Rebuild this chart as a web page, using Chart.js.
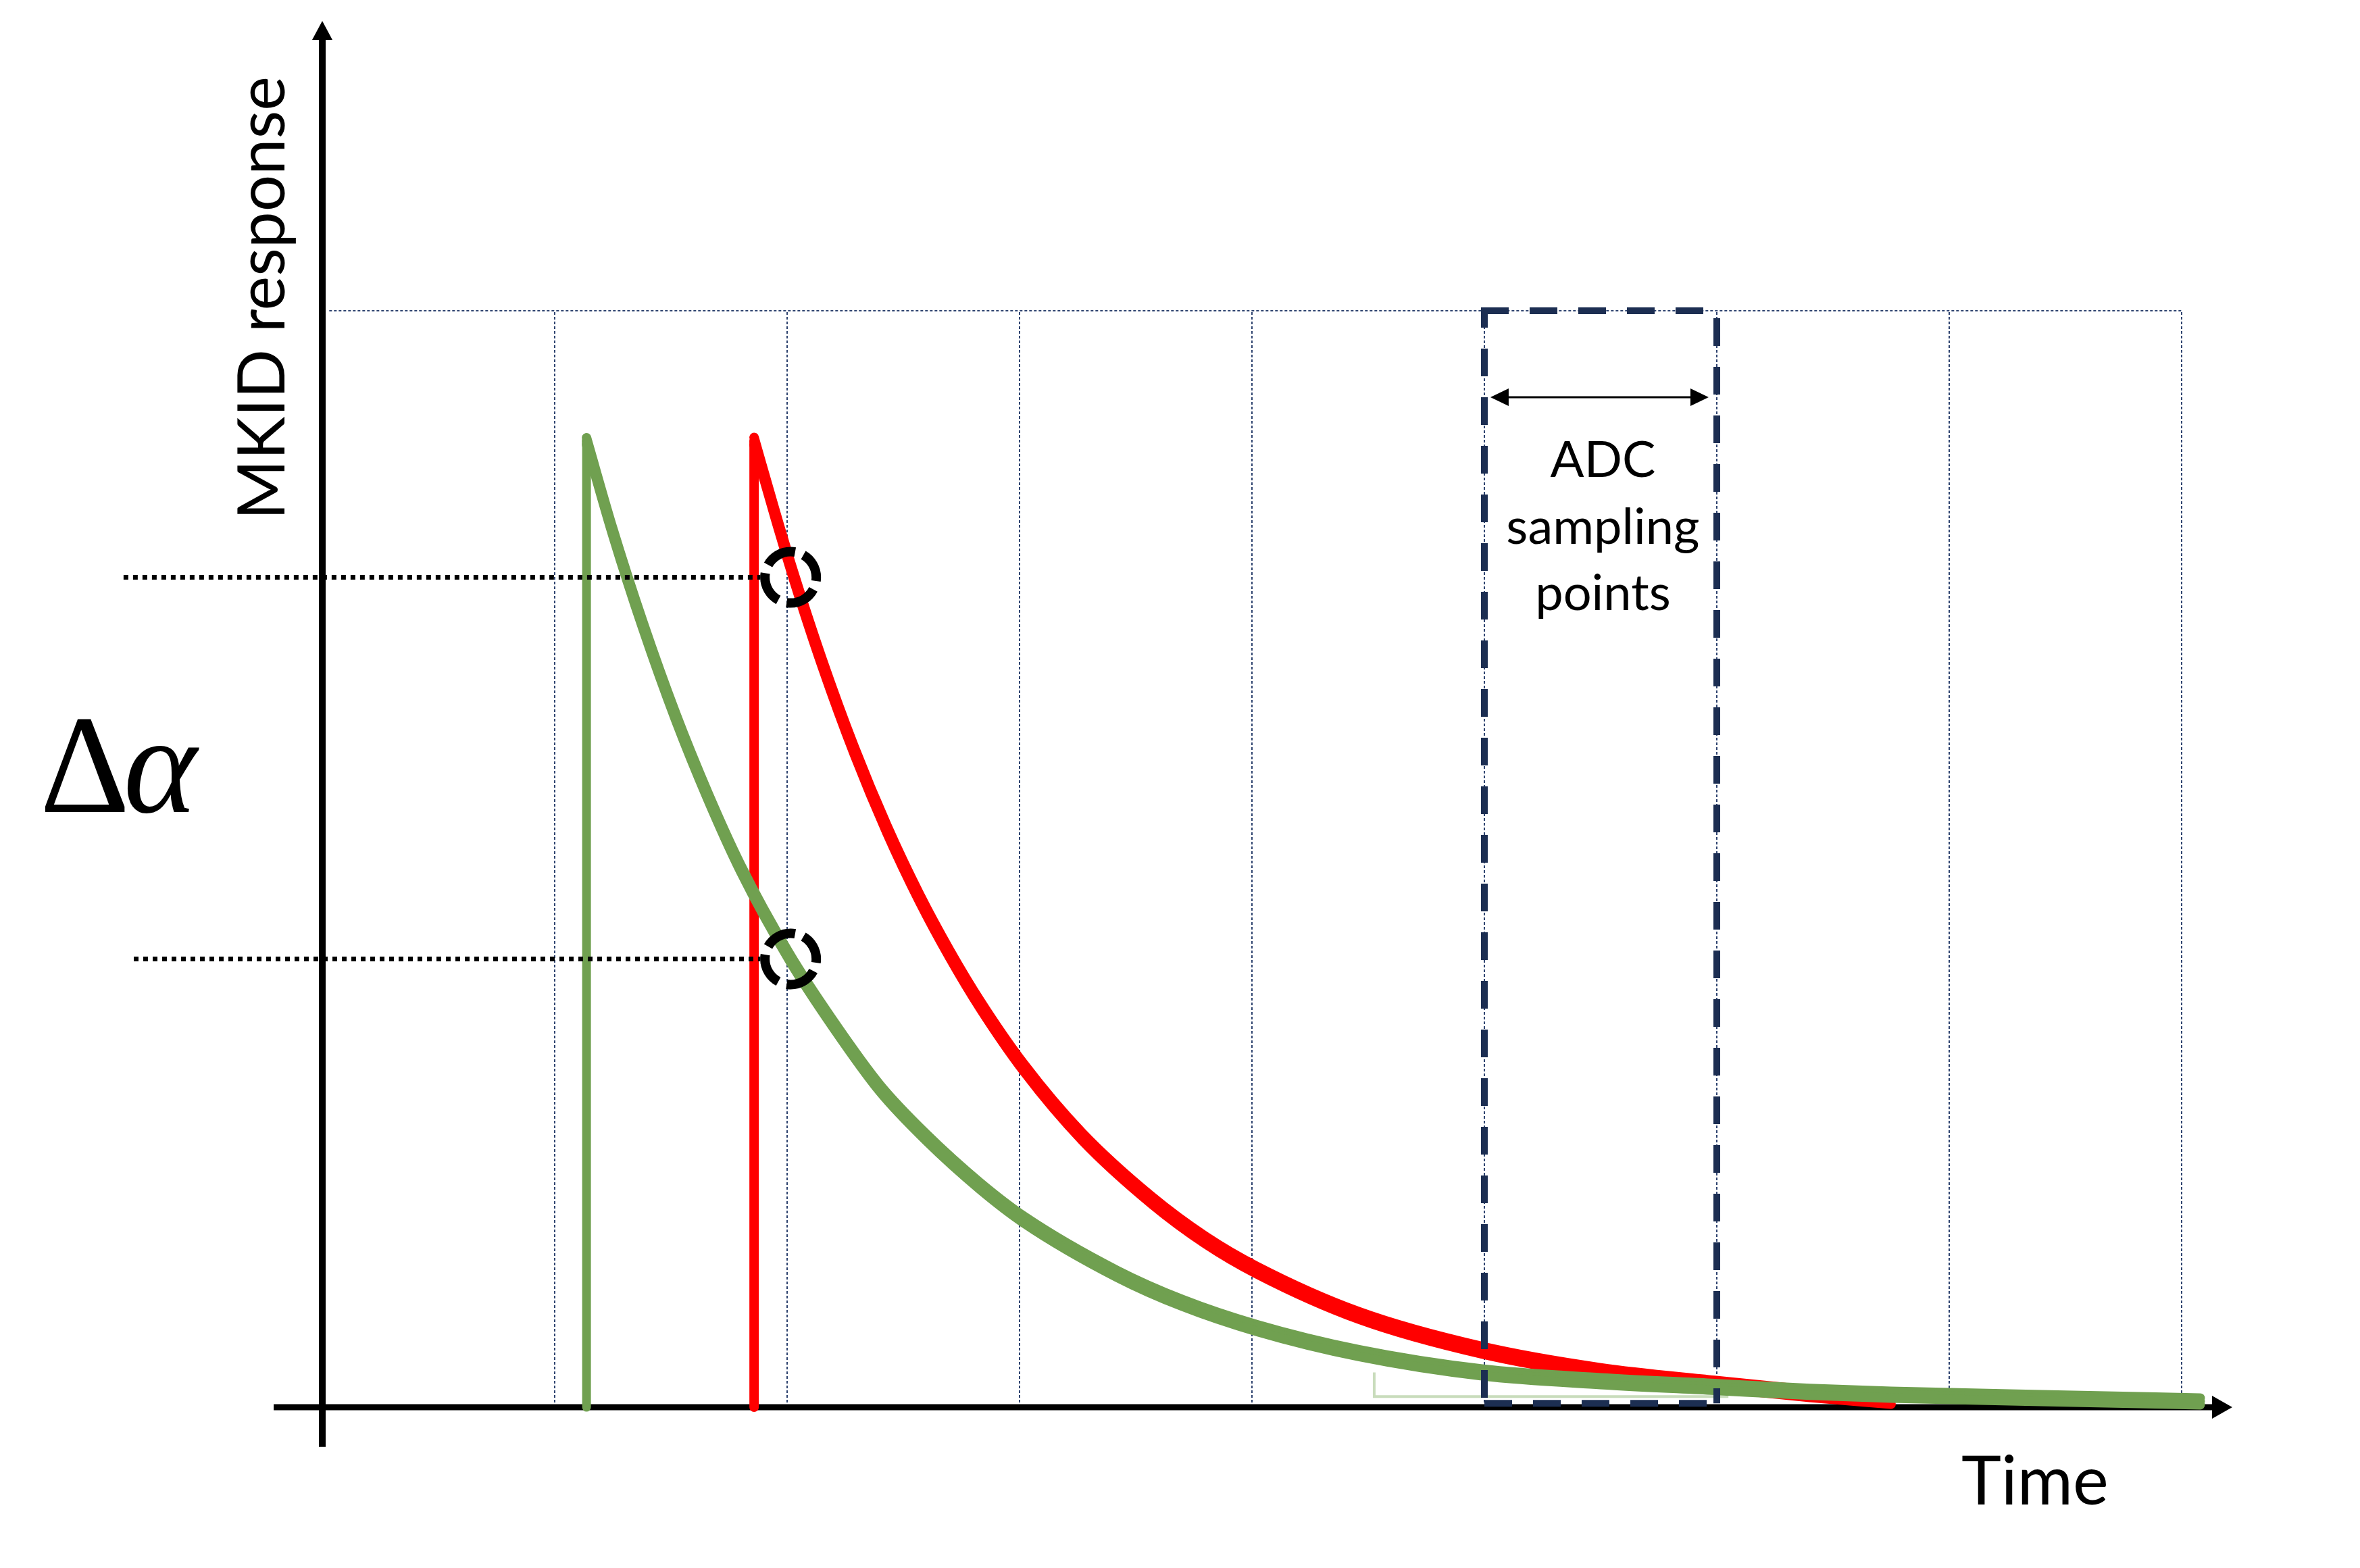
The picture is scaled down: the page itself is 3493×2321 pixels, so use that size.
<!DOCTYPE html>
<html><head><meta charset="utf-8">
<script src="https://cdn.jsdelivr.net/npm/chart.js@4.4.1/dist/chart.umd.min.js"></script>
<style>html,body{margin:0;padding:0;background:#fff;overflow:hidden}canvas{display:block}</style>
</head><body>
<canvas id="c" width="3493" height="2321" style="width:3493px;height:2321px"></canvas>
<script>
// ---- data (time in grid-column units, response relative to pulse peak) ----
const greenTime = [1.137, 1.25, 1.38, 1.52, 1.66, 1.80, 2.01, 2.20, 2.40, 2.60, 2.83, 3.02, 3.42, 3.70, 4.02, 4.46, 4.99, 5.50, 5.99, 6.40, 6.75, 7.50, 8.08];
const greenResponse = [1.000, 0.906, 0.809, 0.715, 0.632, 0.558, 0.466, 0.396, 0.330, 0.279, 0.229, 0.194, 0.138, 0.108, 0.082, 0.056, 0.036, 0.027, 0.021, 0.016, 0.013, 0.009, 0.006];
const redTime = [1.858, 1.95, 2.03, 2.15, 2.29, 2.43, 2.57, 2.70, 2.83, 3.02, 3.27, 3.57, 3.80, 4.02, 4.46, 4.99, 5.50, 5.99, 6.40, 6.75];
const redResponse = [1.000, 0.923, 0.859, 0.771, 0.679, 0.598, 0.527, 0.469, 0.417, 0.351, 0.280, 0.214, 0.173, 0.142, 0.095, 0.059, 0.037, 0.024, 0.014, 0.007];
const pulseOnsets = [1.137, 1.858];          // green, red
const pulsePeak = 1.0;
const gridTimes = [1, 2, 3, 4, 5, 6, 7, 8];
const gridTop = 1.135;
const adcWindow = [5, 6];
const sampleTime = 2.015;
const sampleLevels = [0.859, 0.464];
const levelLineStarts = [-0.855, -0.811];
const levelLineEnd = 1.885;
const faintTraceTime = [4.526, 4.526, 6.05];
const faintTraceResponse = [0.036, 0.011, 0.011];
const yAxisLabel = 'MKID response';
const xAxisLabel = 'Time';
const deltaLabel = ['Δ', 'α'];
const adcLabel = ['ADC', 'sampling', 'points'];

const pts = (xs, ys) => xs.map((x, i) => ({x, y: ys[i]}));

const GREEN = '#70A050', RED = '#FF0000', NAVY = '#1c2e52', GRID = '#2f4470';

const datasets = [
  {data: pts([levelLineStarts[0], levelLineEnd], [sampleLevels[0], sampleLevels[0]]), borderColor: '#000', borderWidth: 7, borderDash: [7, 7], borderCapStyle: 'butt', order: 0},
  {data: pts([levelLineStarts[1], levelLineEnd], [sampleLevels[1], sampleLevels[1]]), borderColor: '#000', borderWidth: 7, borderDash: [7, 7], borderCapStyle: 'butt', order: 0},
  {data: pts(greenTime, greenResponse), borderColor: GREEN, borderWidth: 14, penStretch: 10, order: 2, cubicInterpolationMode: 'monotone', tension: 0.4},
  {data: pts([pulseOnsets[0], pulseOnsets[0]], [0, pulsePeak]), borderColor: GREEN, borderWidth: 13, order: 3},
  {data: pts(redTime, redResponse), borderColor: RED, borderWidth: 14, penStretch: 11, order: 4, cubicInterpolationMode: 'monotone', tension: 0.4},
  {data: pts([pulseOnsets[1], pulseOnsets[1]], [0, pulsePeak]), borderColor: RED, borderWidth: 14, order: 5},
  {data: pts(faintTraceTime, faintTraceResponse), borderColor: '#c9dcbc', borderWidth: 4, borderCapStyle: 'butt', borderJoinStyle: 'miter', order: 6},
].map(d => Object.assign({pointRadius: 0, borderCapStyle: 'round', borderJoinStyle: 'round', fill: false, tension: 0}, d));

function P(chart, x, y) { return [chart.scales.x.getPixelForValue(x), chart.scales.y.getPixelForValue(y)]; }

const decor = {
  id: 'decor',
  beforeDatasetsDraw(chart) {
    const ctx = chart.ctx;
    ctx.save();
    // grid
    ctx.strokeStyle = GRID; ctx.lineWidth = 2; ctx.setLineDash([4, 3]);
    gridTimes.forEach(t => {
      const [x0, y0] = P(chart, t, 0), [, y1] = P(chart, t, gridTop);
      ctx.beginPath(); ctx.moveTo(x0, y0); ctx.lineTo(x0, y1); ctx.stroke();
    });
    {
      const [a, y] = P(chart, 0.03, gridTop), [b] = P(chart, gridTimes[gridTimes.length - 1], gridTop);
      ctx.beginPath(); ctx.moveTo(a, y); ctx.lineTo(b, y); ctx.stroke();
    }
    ctx.setLineDash([]);
    // axes
    ctx.fillStyle = '#000'; ctx.strokeStyle = '#000';
    const [ox, oy] = P(chart, 0, 0);
    const [, yb] = P(chart, 0, -0.041), [, yt] = P(chart, 0, 1.435);
    ctx.lineWidth = 10;
    ctx.beginPath(); ctx.moveTo(ox, yb); ctx.lineTo(ox, yt + 26); ctx.stroke();
    ctx.beginPath(); ctx.moveTo(ox, yt); ctx.lineTo(ox - 15, yt + 28); ctx.lineTo(ox + 15, yt + 28); ctx.closePath(); ctx.fill();
    const [xl] = P(chart, -0.209, 0), [xt] = P(chart, 8.218, 0);
    ctx.lineWidth = 9;
    ctx.beginPath(); ctx.moveTo(xl, oy); ctx.lineTo(xt - 28, oy); ctx.stroke();
    ctx.beginPath(); ctx.moveTo(xt, oy); ctx.lineTo(xt - 30, oy - 17); ctx.lineTo(xt - 30, oy + 17); ctx.closePath(); ctx.fill();
    ctx.restore();
  },
  beforeDatasetDraw(chart, args) {
    const s = chart.data.datasets[args.index].penStretch;
    if (!s) return;
    const ctx = chart.ctx;
    [-s / 2, 0, s / 2].forEach(dy => {
      ctx.save(); ctx.translate(0, dy); args.meta.controller.draw(); ctx.restore();
    });
    return false;
  },
  afterDatasetsDraw(chart) {
    const ctx = chart.ctx;
    ctx.save();
    // ADC window dashed box
    const [l, t] = P(chart, adcWindow[0], gridTop), [r, b] = P(chart, adcWindow[1], 0.004);
    ctx.strokeStyle = NAVY; ctx.lineWidth = 10; ctx.lineCap = 'butt';
    ctx.setLineDash([41, 31]);
    ctx.lineDashOffset = 0;
    ctx.beginPath(); ctx.moveTo(l - 5, t); ctx.lineTo(r, t); ctx.lineTo(r, b); ctx.stroke();
    ctx.lineDashOffset = 16;
    ctx.beginPath(); ctx.moveTo(l, t); ctx.lineTo(l, b); ctx.stroke();
    ctx.lineDashOffset = 0;
    ctx.beginPath(); ctx.moveTo(l, b); ctx.lineTo(r, b); ctx.stroke();
    // double arrow
    ctx.setLineDash([]);
    ctx.strokeStyle = '#000'; ctx.fillStyle = '#000'; ctx.lineWidth = 3;
    const [a1, ay] = P(chart, 5.026, 1.0455), [a2] = P(chart, 5.965, 1.0455);
    ctx.beginPath(); ctx.moveTo(a1 + 24, ay); ctx.lineTo(a2 - 24, ay); ctx.stroke();
    ctx.beginPath(); ctx.moveTo(a1, ay); ctx.lineTo(a1 + 27, ay - 13); ctx.lineTo(a1 + 27, ay + 13); ctx.closePath(); ctx.fill();
    ctx.beginPath(); ctx.moveTo(a2, ay); ctx.lineTo(a2 - 27, ay - 13); ctx.lineTo(a2 - 27, ay + 13); ctx.closePath(); ctx.fill();
    // sampling circles
    ctx.lineWidth = 14; ctx.setLineDash([47, 13]);
    sampleLevels.forEach((lv) => {
      const [cx, cy] = P(chart, sampleTime, lv);
      ctx.lineDashOffset = 41.5;
      ctx.beginPath(); ctx.arc(cx, cy, 38, 0, Math.PI * 2); ctx.stroke();
    });
    ctx.setLineDash([]);
    // texts
    ctx.fillStyle = '#000';
    ctx.textBaseline = 'alphabetic';
    ctx.font = '74px Lato';
    ctx.textAlign = 'center';
    const adcY = [0.963, 0.894, 0.825];
    adcLabel.forEach((s, i) => { const [x, y] = P(chart, (adcWindow[0] + adcWindow[1]) / 2 + 0.01, adcY[i]); ctx.fillText(s, x, y); });
    ctx.font = '100px Lato'; ctx.textAlign = 'left';
    { const [x, y] = P(chart, 7.052, -0.1007); ctx.fillText(xAxisLabel, x, y); }
    ctx.font = '96px Lato'; ctx.textAlign = 'center';
    { const [x, y] = P(chart, -0.163, 1.148); ctx.save(); ctx.translate(x, y); ctx.rotate(-Math.PI / 2); ctx.fillText(yAxisLabel, 0, 0); ctx.restore(); }
    ctx.textAlign = 'left';
    ctx.font = '207px "Liberation Serif"';
    { const [x, y] = P(chart, -1.215, 0.616); ctx.fillText(deltaLabel[0], x, y); }
    ctx.font = 'italic 207px "Liberation Serif"';
    { const [x, y] = P(chart, -0.855, 0.616); ctx.fillText(deltaLabel[1], x, y); }
    ctx.restore();
  }
};

function build() {
  new Chart(document.getElementById('c'), {
    type: 'line',
    data: {datasets},
    options: {
      responsive: false, animation: false, devicePixelRatio: 1,
      layout: {padding: 0},
      plugins: {legend: {display: false}, tooltip: {enabled: false}},
      events: [],
      scales: {
        x: {type: 'linear', min: -1.3866, max: 8.7674, display: false},
        y: {type: 'linear', min: -0.1664, max: 1.4566, display: false}
      }
    },
    plugins: [decor]
  });
}
Promise.all(['74px Lato', '100px Lato', '207px "Liberation Serif"', 'italic 207px "Liberation Serif"']
  .map(f => document.fonts.load(f).catch(() => null))).then(build, build);
</script>
</body></html>
